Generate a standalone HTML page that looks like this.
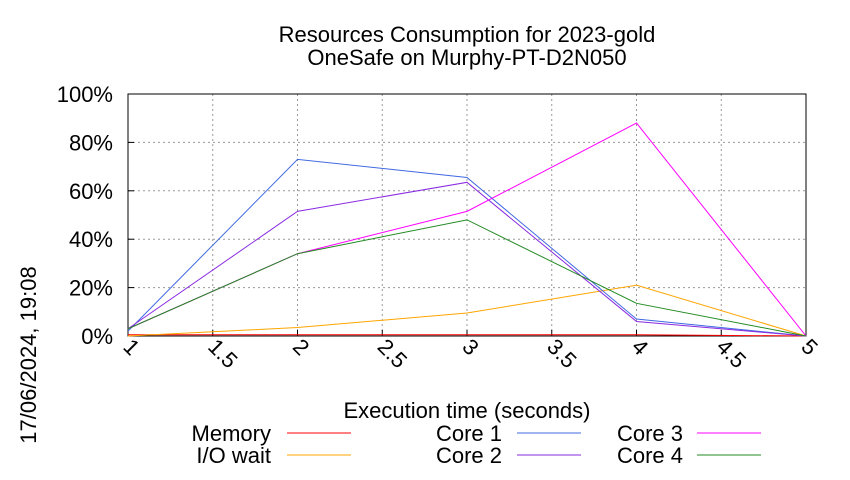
<!DOCTYPE html>
<html><head><meta charset="utf-8"><style>
body{margin:0;background:#fff}
svg{font-family:"Liberation Sans",sans-serif}
</style></head><body>
<svg width="850" height="475">
<g id="grid"></g>
<g id="axes"></g>
<g id="series"></g>
<text x="467" y="42" font-size="22" text-anchor="middle">Resources Consumption for 2023-gold</text>
<text x="467" y="65" font-size="22" text-anchor="middle">OneSafe on Murphy-PT-D2N050</text>
<text x="467" y="418" font-size="22" text-anchor="middle">Execution time (seconds)</text>
<text transform="translate(36,355) rotate(-90)" font-size="22" text-anchor="middle">17/06/2024, 19:08</text>
<g id="legend"></g>
</svg>
<script>
const xs=[1,2,3,4,5];
const seriesNames=["Memory","I/O wait","Core 1","Core 2","Core 3","Core 4"];
const seriesColors=["#ff0000","#ffa500","#4169e1","#8a2be2","#ff00ff","#228b22"];
const memory=[0.5,0.5,0.5,0.5,0];
const ioWait=[0,3.5,9.5,21,0];
const core1=[2,73,65.5,7,0];
const core2=[3,51.5,63.5,6,0];
const core3=[3,34,51.5,88,0];
const core4=[3,34,48,13.5,0];
const xTicks=[1,1.5,2,2.5,3,3.5,4,4.5,5];
const yTicks=[0,20,40,60,80,100];
const L=128,R=806,T=94,B=336;
const sx=v=>L+(v-1)/4*(R-L), sy=v=>B-v/100*(B-T);
const NS="http://www.w3.org/2000/svg";
function mk(tag,attrs,parent){const e=document.createElementNS(NS,tag);for(const k in attrs)e.setAttribute(k,attrs[k]);parent.appendChild(e);return e;}
const grid=document.getElementById('grid'),axes=document.getElementById('axes'),ser=document.getElementById('series'),leg=document.getElementById('legend');
xTicks.forEach(t=>{
 const l=mk('line',{x1:sx(t),x2:sx(t),y1:T,y2:B,stroke:'#999','stroke-dasharray':'2,3','stroke-width':1},grid);
 
 
 const tk=mk('line',{x1:sx(t),x2:sx(t),y1:B,y2:B-6,stroke:'#000'},axes);
 
 
 const tx=mk('text',{transform:`translate(${sx(t)-6},${B+12}) rotate(45)`,'font-size':22},axes);
 tx.textContent=String(t);
 
 
});
yTicks.forEach(t=>{
 const l=mk('line',{x1:L,x2:R,y1:sy(t),y2:sy(t),stroke:'#999','stroke-dasharray':'2,3','stroke-width':1},grid);
 
 
 const tk=mk('line',{x1:L,x2:L+6,y1:sy(t),y2:sy(t),stroke:'#000'},axes);
 
 
 const tx=mk('text',{x:L-15,y:sy(t)+8,'font-size':22,'text-anchor':'end'},axes);
 tx.textContent=t+'%';
 
 
});
const box=mk('rect',{x:L,y:T,width:R-L,height:B-T,fill:'none',stroke:'#000','stroke-width':1},axes);


const allData=[memory,ioWait,core1,core2,core3,core4];
allData.forEach((d,i)=>{
 const p=mk('polyline',{points:d.map((v,j)=>sx(xs[j])+','+sy(v)).join(' '),fill:'none',stroke:seriesColors[i],'stroke-width':1},ser);
 
 
});
const legPos=[[271,287,433],[271,287,455],[502,517,433],[502,517,455],[683,697,433],[683,697,455]];
seriesNames.forEach((n,i)=>{
 const [tx,lx,y]=legPos[i];
 const t=mk('text',{x:tx,y:y+8,'font-size':22,'text-anchor':'end'},leg);
 t.textContent=n;
 
 
 const l=mk('line',{x1:lx,x2:lx+64,y1:y,y2:y,stroke:seriesColors[i],'stroke-width':1},leg);
 
 
});
</script>
</body></html>
